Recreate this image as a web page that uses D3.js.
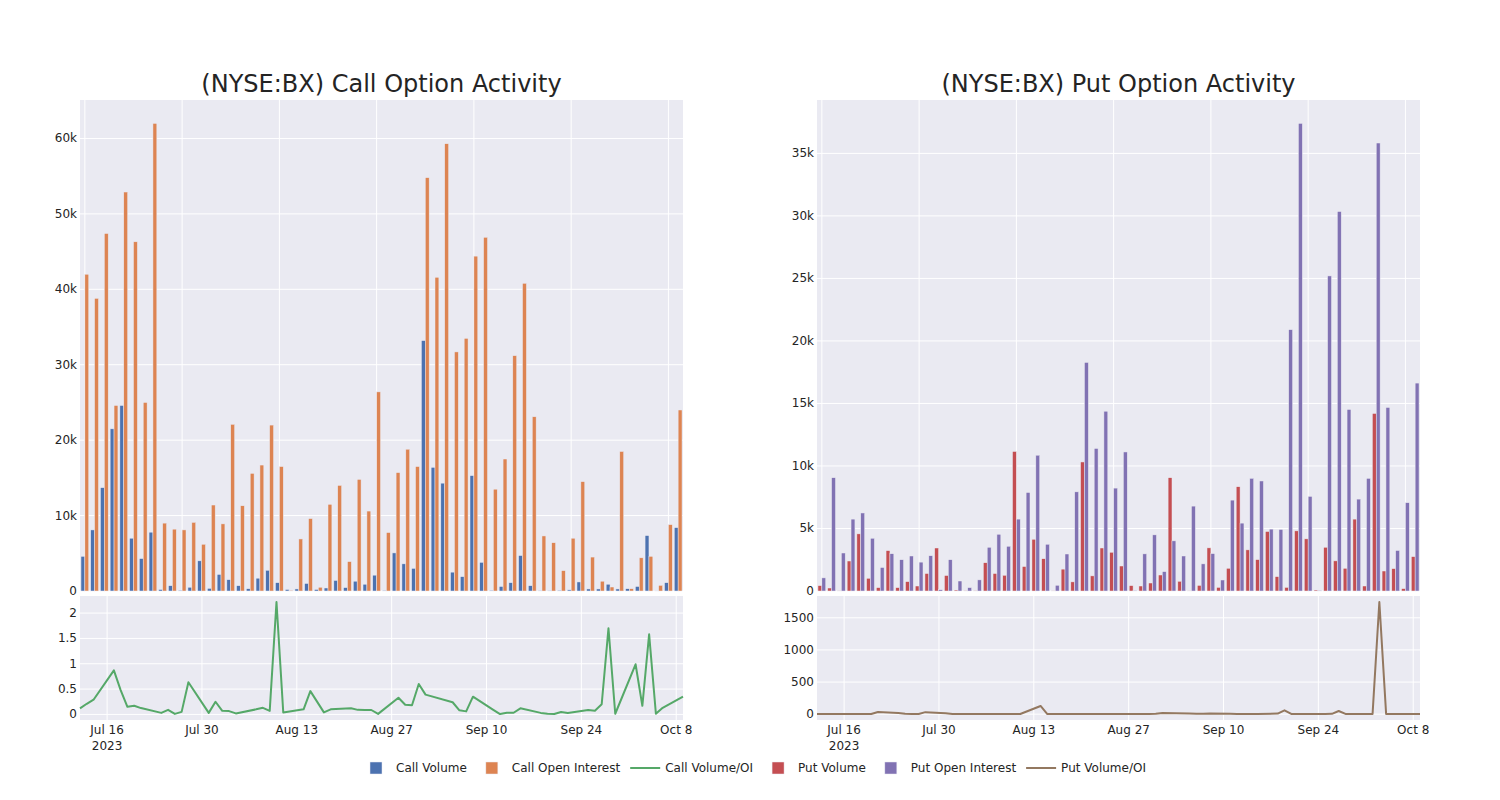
<!DOCTYPE html>
<html><head><meta charset="utf-8">
<script src="https://cdn.jsdelivr.net/npm/d3@7"></script>
<style>
body{margin:0;background:#fff;}
text{font-family:"DejaVu Sans",sans-serif;fill:rgb(36,36,36);}
</style>
</head><body>
<svg id="chart" width="1500" height="800"></svg>
<script>
// ---------- data ----------
const dates = ["2023-07-12","2023-07-13","2023-07-14","2023-07-17","2023-07-18","2023-07-19","2023-07-20","2023-07-21","2023-07-24","2023-07-25","2023-07-26","2023-07-27","2023-07-28","2023-07-31",
"2023-08-01","2023-08-02","2023-08-03","2023-08-04","2023-08-07","2023-08-08","2023-08-09","2023-08-10","2023-08-11","2023-08-14","2023-08-15","2023-08-17","2023-08-18","2023-08-21","2023-08-22","2023-08-23","2023-08-24","2023-08-25","2023-08-28","2023-08-29","2023-08-30","2023-08-31",
"2023-09-01","2023-09-05","2023-09-06","2023-09-07","2023-09-08","2023-09-11","2023-09-12","2023-09-13","2023-09-14","2023-09-15","2023-09-18","2023-09-19","2023-09-20","2023-09-21","2023-09-22","2023-09-25","2023-09-26","2023-09-27","2023-09-28","2023-09-29",
"2023-10-02","2023-10-03","2023-10-04","2023-10-05","2023-10-06","2023-10-09"];

const callVolume = [4600,8100,13700,21500,24600,7000,4300,7800,200,700,100,500,4000,350,2200,1500,700,300,1700,2750,1100,200,270,1000,200,400,1400,450,1300,900,2100,80,5050,3600,3000,33200,16400,14300,2500,1900,15300,3800,100,600,1100,4700,700,50,50,100,150,1200,270,270,900,270,300,600,7350,10,1100,8400];
const callOpenInterest = [42000,38800,47400,24600,52900,46300,25000,62000,9000,8200,8100,9100,6200,11400,8900,22100,11300,15600,16700,22000,16500,100,6900,9600,500,11500,14000,3900,14800,10600,26400,7750,15700,18800,16500,54800,41600,59300,31700,33500,44400,46900,13500,17500,31200,40800,23100,7300,6400,2700,7000,14500,4500,1300,530,18500,300,4400,4600,750,8800,24000];
const callVolumeOI = [0.12,0.21,0.29,0.87,0.48,0.15,0.17,0.125,0.03,0.09,0.01,0.05,0.635,0.03,0.25,0.07,0.065,0.02,0.10,0.13,0.07,2.22,0.04,0.10,0.46,0.04,0.10,0.12,0.09,0.088,0.087,0.01,0.33,0.19,0.18,0.60,0.39,0.24,0.08,0.06,0.35,0.09,0.007,0.033,0.033,0.12,0.03,0.013,0.007,0.047,0.027,0.087,0.074,0.2,1.70,0.013,0.99,0.17,1.58,0.013,0.13,0.35];

const putVolume = [430,240,20,2400,4570,1020,270,3230,270,750,400,1400,3440,1240,80,30,30,2260,1400,1260,11160,1960,4140,2580,20,1750,730,10320,1210,3440,3100,2000,430,400,640,1280,9060,780,10,450,3450,290,1820,8340,3290,2510,4760,1150,290,4810,4170,80,3500,2410,1820,5750,400,14200,1600,1790,190,2750];
const putOpenInterest = [1050,9060,3040,5750,6240,4220,1880,2980,2500,2800,2310,2820,100,2500,800,270,890,3500,4540,3580,5750,7880,10860,3740,460,2960,7930,18280,11400,14380,8230,11120,50,2970,4490,1550,4010,2800,6790,2170,2990,880,7270,5430,9010,8800,4950,4920,20900,37400,7570,50,25200,30350,14520,7350,9010,35830,14680,3240,7060,16630];
const putVolumeOI = [3,3,3,4,2,2,3,35,20,8,3,3,32,15,3,2,2,3,3,3,3,4,3,128,2,2,3,3,3,3,3,3,3,3,4,8,20,10,5,8,12,5,4,3,3,3,10,60,4,4,4,4,5,50,4,4,4,1747,4,4,4,4];

const tickDates = ["2023-07-16","2023-07-30","2023-08-13","2023-08-27","2023-09-10","2023-09-24","2023-10-08"];
const tickLabels = ["Jul 16","Jul 30","Aug 13","Aug 27","Sep 10","Sep 24","Oct 8"];
const yearLabel = "2023";
const titles = ["(NYSE:BX) Call Option Activity","(NYSE:BX) Put Option Activity"];
const seriesNames = ["Call Volume","Call Open Interest","Call Volume/OI","Put Volume","Put Open Interest","Put Volume/OI"];

// ---------- drawing ----------
const parse = d3.timeParse("%Y-%m-%d");
const dateObjs = dates.map(parse);
const svg = d3.select("#chart");
const BG = "rgb(234,234,242)";
const colors = {cv:"rgb(76,114,176)", coi:"rgb(221,132,82)", cr:"rgb(85,168,104)",
                pv:"rgb(196,78,82)", poi:"rgb(129,114,179)", pr:"rgb(147,120,96)"};

const panels = [
  {x0:80, x1:683, title:titles[0], vol:callVolume, oi:callOpenInterest, ratio:callVolumeOI, c1:colors.cv, c2:colors.coi, c3:colors.cr},
  {x0:817, x1:1420, title:titles[1], vol:putVolume, oi:putOpenInterest, ratio:putVolumeOI, c1:colors.pv, c2:colors.poi, c3:colors.pr}
];
const topY0 = 100, topY1 = 591, botY0 = 596, botY1 = 720;

function kfmt(v){ return v===0 ? "0" : (v/1000)+"k"; }

panels.forEach(p => {
  const g = svg.append("g");
  // title
  g.append("text").attr("x",(p.x0+p.x1)/2).attr("y",92).attr("text-anchor","middle")
    .attr("font-size",24).text(p.title);

  // ---- top bar chart ----
  g.append("rect").attr("x",p.x0).attr("y",topY0).attr("width",p.x1-p.x0).attr("height",topY1-topY0).attr("fill",BG);
  const x = d3.scaleBand().domain(dates).range([p.x0,p.x1]).paddingInner(0.2).paddingOuter(0.1);
  const xs = d3.scaleBand().domain(["vol","oi"]).range([0,x.bandwidth()]);
  const ymax = d3.max(p.vol.concat(p.oi))*1.05;
  const y = d3.scaleLinear().domain([0,ymax]).range([topY1,topY0]);
  const yt = y.ticks(8).filter(t=>t<=ymax);
  // grid
  g.selectAll(null).data(yt).enter().append("line")
    .attr("x1",p.x0).attr("x2",p.x1).attr("y1",d=>y(d)).attr("y2",d=>y(d))
    .attr("stroke","#fff").attr("stroke-width",1);
  const catTicks = dates.filter((d,i)=>i%10===0);
  g.selectAll(null).data(catTicks).enter().append("line")
    .attr("x1",d=>x(d)+x.step()*0.4).attr("x2",d=>x(d)+x.step()*0.4)
    .attr("y1",topY0).attr("y2",topY1).attr("stroke","#fff").attr("stroke-width",1);
  g.selectAll(null).data(yt).enter().append("text")
    .attr("x",p.x0-3).attr("y",d=>y(d)+4).attr("text-anchor","end").attr("font-size",12).text(kfmt);
  // bars
  const bars = [];
  dates.forEach((d,i)=>{ bars.push({d, k:"vol", v:p.vol[i], c:p.c1}); bars.push({d, k:"oi", v:p.oi[i], c:p.c2}); });
  g.selectAll(null).data(bars).enter().append("rect")
    .attr("x",b=>x(b.d)+xs(b.k)).attr("width",xs.bandwidth())
    .attr("y",b=>y(b.v)).attr("height",b=>topY1-y(b.v))
    .attr("fill",b=>b.c).attr("stroke",BG).attr("stroke-width",0.5);

  // ---- bottom line chart ----
  g.append("rect").attr("x",p.x0).attr("y",botY0).attr("width",p.x1-p.x0).attr("height",botY1-botY0).attr("fill",BG);
  const xt = d3.scaleTime().domain([dateObjs[0], dateObjs[dateObjs.length-1]]).range([p.x0,p.x1]);
  const rmin = d3.min(p.ratio), rmax = d3.max(p.ratio), pad=(rmax-rmin)*0.053;
  const y2 = d3.scaleLinear().domain([rmin-pad, rmax+pad]).range([botY1,botY0]);
  const y2t = y2.ticks(5);
  g.selectAll(null).data(y2t).enter().append("line")
    .attr("x1",p.x0).attr("x2",p.x1).attr("y1",d=>y2(d)).attr("y2",d=>y2(d))
    .attr("stroke","#fff").attr("stroke-width",1);
  g.selectAll(null).data(y2t).enter().append("text")
    .attr("x",p.x0-3).attr("y",d=>y2(d)+4).attr("text-anchor","end").attr("font-size",12).text(d=>String(d));
  const td = tickDates.map(parse);
  g.selectAll(null).data(td).enter().append("line")
    .attr("x1",d=>xt(d)).attr("x2",d=>xt(d)).attr("y1",botY0).attr("y2",botY1)
    .attr("stroke","#fff").attr("stroke-width",1);
  g.selectAll(null).data(td).enter().append("text")
    .attr("x",d=>xt(d)).attr("y",734).attr("text-anchor","middle").attr("font-size",12)
    .text((d,i)=>tickLabels[i]);
  g.append("text").attr("x",xt(td[0])).attr("y",750).attr("text-anchor","middle").attr("font-size",12).text(yearLabel);
  const line = d3.line().x((d,i)=>xt(dateObjs[i])).y(d=>y2(d));
  g.append("path").datum(p.ratio).attr("d",line).attr("fill","none")
    .attr("stroke",p.c3).attr("stroke-width",2).attr("stroke-linejoin","round");
});

// ---- legend ----
const legendItems = [
  {name:seriesNames[0], type:"bar", c:colors.cv},
  {name:seriesNames[1], type:"bar", c:colors.coi},
  {name:seriesNames[2], type:"line", c:colors.cr},
  {name:seriesNames[3], type:"bar", c:colors.pv},
  {name:seriesNames[4], type:"bar", c:colors.poi},
  {name:seriesNames[5], type:"line", c:colors.pr}
];
const lg = svg.append("g");
let lx = 396;
const ly = 768;
legendItems.forEach(it=>{
  if(it.type==="bar"){
    lg.append("rect").attr("x",lx-26).attr("y",ly-6).attr("width",12).attr("height",12).attr("fill",it.c)
      .attr("stroke",BG).attr("stroke-width",0.5);
  } else {
    lg.append("line").attr("x1",lx-35).attr("x2",lx-5).attr("y1",ly).attr("y2",ly).attr("stroke",it.c).attr("stroke-width",2);
  }
  const t = lg.append("text").attr("x",lx).attr("y",ly+4).attr("font-size",12).text(it.name);
  lx += t.node().getComputedTextLength() + 45;
});
</script>
</body></html>
